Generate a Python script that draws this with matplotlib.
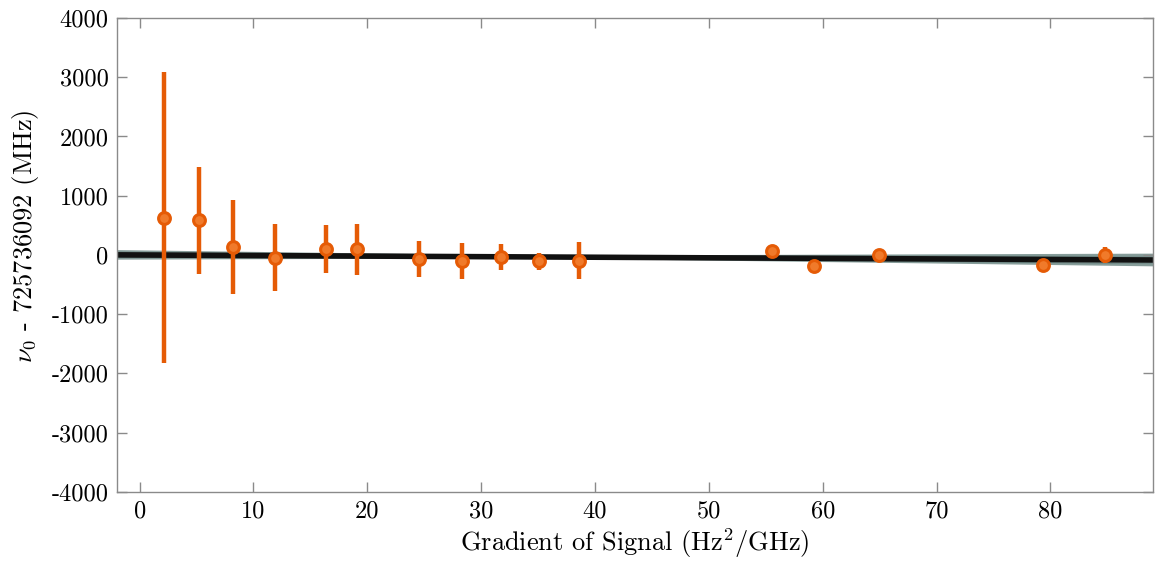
import numpy as np
import matplotlib
matplotlib.use("Agg")
import matplotlib.pyplot as plt

# measured points (gradient, offset frequency, 1-sigma error)
gradient = [2.1, 5.25, 8.2, 11.9, 16.4, 19.1, 24.5, 28.3, 31.7, 35.1, 38.6,
            55.5, 59.2, 64.9, 79.3, 84.8]
offset = [630, 586, 135, -45, 101, 96, -70, -107, -34, -107, -96,
          73, -186, -6, -169, 0]
offset_err = [2455, 900, 790, 570, 410, 428, 305, 305, 215, 145, 310,
              60, 60, 60, 40, 135]

# linear fit (central) and spread of alternative fits
fit_intercept = -1.0
fit_slope = -0.95
fit_pivot = 35.0
band_slopes = [-2.5, -1.8, -0.1, 0.6]

plt.rcParams["font.family"] = "serif"
plt.rcParams["font.serif"] = ["cmr10", "DejaVu Serif"]
plt.rcParams["mathtext.fontset"] = "cm"
plt.rcParams["axes.formatter.use_mathtext"] = False
plt.rcParams["axes.unicode_minus"] = False

orange = "#e55b06"
grey = "#8a8a8a"

fig = plt.figure(figsize=(11.57, 5.64), dpi=100)
ax = fig.add_axes([0.101, 0.128, 0.8955, 0.84])

xs = np.array([-2.0, 89.0])
y_pivot = fit_intercept + fit_slope * fit_pivot
for s in band_slopes:
    ax.plot(xs, y_pivot + s * (xs - fit_pivot), color="#5f7d79", lw=2.0, alpha=0.75, zorder=1)
ax.plot(xs, fit_intercept + fit_slope * xs, color="#111111", lw=4.0, zorder=2)

ax.errorbar(gradient, offset, yerr=offset_err, fmt="o", color=orange, ecolor=orange,
            elinewidth=3.2, ms=8.5, mfc="#f07a2a", mec=orange, mew=2.2, capsize=0, zorder=3)

ax.set_xlim(-2, 89)
ax.set_ylim(-4000, 4000)
ax.set_xticks(np.arange(0, 81, 10))
ax.set_yticks(np.arange(-4000, 4001, 1000))

for sp in ax.spines.values():
    sp.set_color(grey)
    sp.set_linewidth(1.0)
ax.tick_params(direction="in", top=True, right=True, length=7, width=1.0,
               color=grey, labelsize=17.5, pad=6)

ax.set_xlabel("Gradient of Signal (Hz$^2$/GHz)", fontsize=19, labelpad=3)
ax.set_ylabel(r"$\nu_0$ - 725736092 (MHz)", fontsize=19)
ax.yaxis.set_label_coords(-0.073, 0.54)

fig.savefig("out.png", dpi=100)
